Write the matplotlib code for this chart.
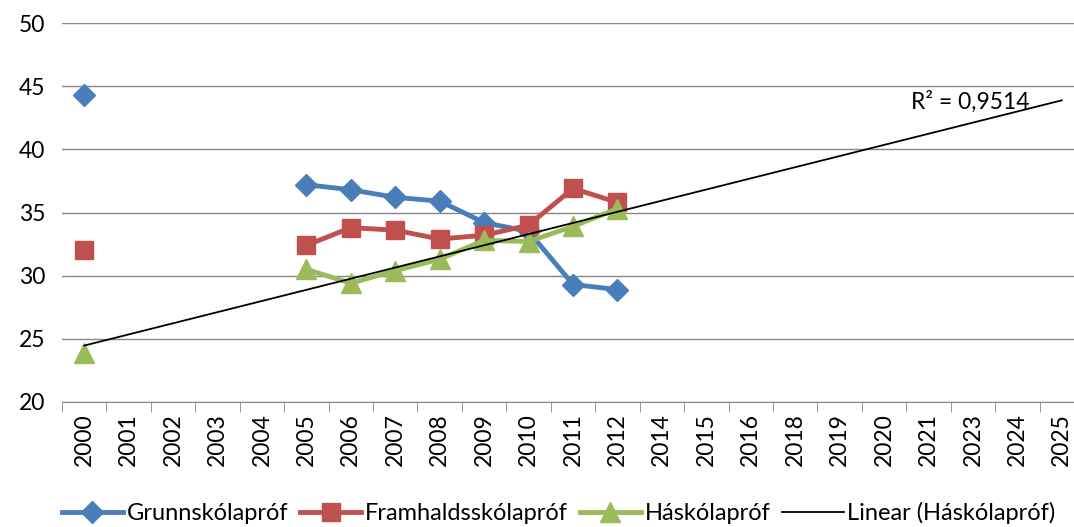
import numpy as np
import matplotlib.pyplot as plt

plt.rcParams['font.family'] = ['Lato', 'DejaVu Sans']

# Flokkar á x-ás (ártöl, sum vantar)
years = ['2000', '2001', '2002', '2003', '2004', '2005', '2006', '2007', '2008',
         '2009', '2010', '2011', '2012', '2014', '2015', '2016', '2018', '2019',
         '2020', '2021', '2023', '2024', '2025']

nan = np.nan
grunn = [44.3, nan, nan, nan, nan, 37.2, 36.8, 36.2, 35.9, 34.2, 33.5, 29.3, 28.9]
fram = [32.0, nan, nan, nan, nan, 32.4, 33.8, 33.6, 32.9, 33.2, 34.0, 36.9, 35.8]
hask = [23.9, nan, nan, nan, nan, 30.5, 29.4, 30.4, 31.3, 32.8, 32.7, 33.9, 35.3]

r2_label = 'R² = 0,9514'

x = np.arange(len(grunn))
x_all = np.arange(len(years))

fig = plt.figure(figsize=(10.74, 5.27), dpi=100)
ax = fig.add_axes([62 / 1074, 1 - 402 / 527, 1022 / 1074, 379 / 527])

ax.plot(x, grunn, color='#4A7EBB', lw=3.5, marker='D', ms=11, label='Grunnskólapróf')
ax.plot(x, fram, color='#C0504D', lw=3.5, marker='s', ms=13, label='Framhaldsskólapróf')
ax.plot(x, hask, color='#9BBB59', lw=3.5, marker='^', ms=15, label='Háskólapróf')

# Línuleg leitni (Excel notar raðnúmer flokka)
h = np.array(hask)
ok = ~np.isnan(h)
k, b = np.polyfit(x[ok], h[ok], 1)
ax.plot(x_all, k * x_all + b, color='black', lw=1.3, label='Linear (Háskólapróf)')
ax.text(19.95, 43.8, r2_label, fontsize=16.5, ha='center', va='center')

ax.set_xlim(-0.5, len(years) - 0.5)
ax.set_ylim(20, 50)
ax.set_yticks(range(20, 51, 5))
ax.set_xticks(x_all)
ax.set_xticklabels(years, rotation=90, fontsize=16.5)
ax.set_xticks(np.arange(-0.5, len(years), 1), minor=True)
ax.tick_params(axis='x', which='major', length=0, pad=8)
ax.tick_params(axis='x', which='minor', length=7, color='#868686')
ax.tick_params(axis='y', length=0, labelsize=16.5, pad=12)
ax.grid(axis='y', color='#868686', lw=1)
for s in ['top', 'right', 'left']:
    ax.spines[s].set_visible(False)
ax.spines['bottom'].set_color('#868686')

fig.legend(loc='lower center', bbox_to_anchor=(0.52, -0.035), ncol=4, frameon=False,
           fontsize=17, handlelength=2.6, handletextpad=0.15, columnspacing=0.5)

fig.savefig('out.png')
